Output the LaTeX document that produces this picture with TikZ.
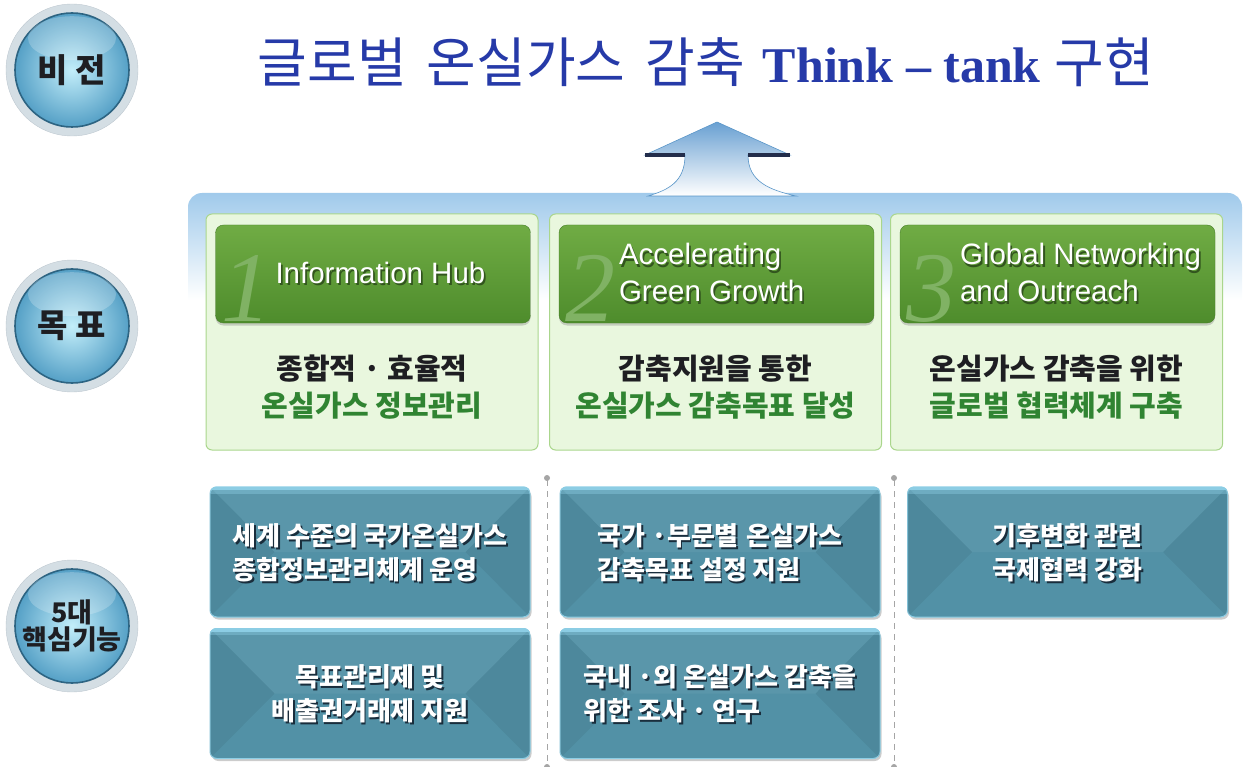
\documentclass[tikz,border=0pt]{standalone}
\usepackage{fontspec}
\newfontfamily\kr{Noto Sans CJK KR}
\newfontfamily\arl{Liberation Sans}
\newfontfamily\tms{Liberation Serif}
\usetikzlibrary{shadows,positioning}
\definecolor{ttlblue}{RGB}{38,58,168}
\definecolor{bandblue}{RGB}{160,202,235}
\definecolor{arrowblue}{RGB}{105,160,210}
\definecolor{arrowline}{RGB}{90,150,200}
\definecolor{barnavy}{RGB}{35,45,75}
\definecolor{panelfill}{RGB}{233,247,222}
\definecolor{panelline}{RGB}{170,214,140}
\definecolor{hdrtop}{RGB}{112,172,68}
\definecolor{hdrbot}{RGB}{78,140,44}
\definecolor{hdrline}{RGB}{70,125,40}
\definecolor{hdshadow}{RGB}{50,85,30}
\definecolor{numgreen}{RGB}{128,178,100}
\definecolor{ink}{RGB}{30,30,34}
\definecolor{aimgreen}{RGB}{48,132,50}
\definecolor{boxbase}{RGB}{82,145,166}
\definecolor{boxhi}{RGB}{140,205,228}
\definecolor{txtshadow}{RGB}{25,45,60}
\definecolor{sepgrey}{RGB}{165,165,165}
\definecolor{ringgrey}{RGB}{212,222,228}
\definecolor{ringline}{RGB}{190,200,208}
\definecolor{orbhi}{RGB}{195,238,250}
\definecolor{orbblue}{RGB}{85,160,198}
\definecolor{orbedge}{RGB}{45,100,130}
% text with a soft drop shadow
\newcommand\shtext[2]{\makebox[0pt][l]{\hspace{1.8pt}\raisebox{-2.2pt}{\textcolor{#1}{#2}}}#2}
\newcommand\hs[1]{\shtext{hdshadow}{#1}}
\newcommand\bs[1]{\shtext{txtshadow}{#1}}
\tikzset{
  ring/.style={circle,minimum size=132pt,inner sep=0pt,fill=ringgrey,draw=ringline},
  orb/.style={circle,minimum size=114pt,inner sep=0pt,inner color=orbhi,outer color=orbblue,
    draw=orbedge,line width=1.6pt},
  orbtxt/.style={text=ink,align=center,inner sep=0pt,font=\kr\bfseries\fontsize{#1}{27}\selectfont},
  panel/.style={draw=panelline,fill=panelfill,rounded corners=6pt,line width=1pt,
    minimum width=332pt,minimum height=236pt},
  hdr/.style={rounded corners=8pt,top color=hdrtop,bottom color=hdrbot,draw=hdrline,
    minimum width=315pt,minimum height=98pt,
    drop shadow={opacity=0.35,shadow xshift=0pt,shadow yshift=-2.5pt}},
  bignum/.style={font=\tms\itshape\fontsize{100}{100}\selectfont,text=numgreen,inner sep=0pt,anchor=base west},
  hdtxt/.style={font=\arl\fontsize{29.5}{37}\selectfont,text=white,align=left,anchor=west,inner sep=0pt},
  aim/.style={font=\kr\bfseries\fontsize{29}{37}\selectfont,align=center,inner sep=0pt},
  fbox/.style={rounded corners=7pt,fill=boxbase,draw=boxhi,line width=1pt,
    minimum width=320pt,minimum height=130pt,
    drop shadow={opacity=0.4,shadow xshift=1.5pt,shadow yshift=-2.5pt}},
  ftxt/.style={font=\kr\bfseries\fontsize{26}{34}\selectfont,text=white,inner sep=0pt},
  sep/.style={draw=sepgrey,dash pattern=on 6pt off 5pt,line width=1pt}
}
\begin{document}
\begin{tikzpicture}[x=1pt,y=-1pt]
\useasboundingbox (0,0) rectangle (1244,767);
% orbs on the left
\foreach \cy/\lab/\fs [count=\i] in {70/{비 전}/33,326/{목 표}/33,626/{5대\\핵심기능}/27}{
  \node[ring] (ring\i) at (72,\cy) {};
  \node[orb] (orb\i) at (72,\cy) {};
  \fill[white,opacity=.22] ([yshift=-26pt]orb\i.north) ellipse (44pt and 22pt);
  \node[orbtxt=\fs] (ot\i) at (orb\i) {\lab};
}
% vision
\node[font=\kr\fontsize{54}{60}\selectfont,text=ttlblue,anchor=base,inner sep=0pt] (title) at (706,83)
  {글로벌\hspace{20pt}온실가스\hspace{20pt}감축\hspace{18pt}{\tms\bfseries\fontsize{50}{60}\selectfont Think – tank}\hspace{14pt}구현};
% band behind the goals
\shade[top color=bandblue,bottom color=white,rounded corners=14pt]
  (188,300) -- (188,193) -- (1242,193) -- (1242,300);
% arrow up
\shade[top color=arrowblue,bottom color=white,draw=arrowline,line width=.6pt]
  (717,122) -- (790,155) -- (748,155) .. controls (748,182) and (770,190) .. (796,196)
  -- (648,196) .. controls (668,190) and (685,182) .. (685,155) -- (645,155) -- cycle;
\draw[barnavy,line width=3.5pt] (645,155) -- (685,155) (748,155) -- (790,155);
% goals
\foreach \cx/\nm/\eng/\la/\lb [count=\i] in {
  372/1/{\hs{Information Hub}}/{종합적 · 효율적}/{온실가스 정보관리},
  715.5/2/{\hs{Accelerating}\\\hs{Green Growth}}/{감축지원을 통한}/{온실가스 감축목표 달성},
  1056.5/3/{\hs{Global Networking}\\\hs{and Outreach}}/{온실가스 감축을 위한}/{글로벌 협력체계 구축}}{
  \node[panel] (p\i) at (\cx,332) {};
  \node[hdr] (h\i) at (\cx+1,274) {};
  \begin{scope}
    \clip[rounded corners=8pt] (h\i.north west) rectangle (h\i.south east);
    \node[bignum] (n\i) at ([xshift=6pt,yshift=-47pt]h\i.west) {\nm};
  \end{scope}
  \node[hdtxt] (e\i) at ([xshift=60pt]h\i.west) {\eng};
  \node[aim] (a\i) at (\cx,387) {\textcolor{ink}{\la}\\\textcolor{aimgreen}{\lb}};
}
% separators
\foreach \sx in {547,894}{
  \draw[sep] (\sx,480) -- (\sx,767);
  \fill[sepgrey] (\sx,478) circle (3pt);
  \fill[sepgrey] (\sx,767) circle (3pt);
}
% core functions
\foreach \bx/\by/\al/\txt [count=\i] in {
  370/552/left/{\bs{세계 수준의 국가온실가스}\\\bs{종합정보관리체계 운영}},
  370/693.5/center/{\bs{목표관리제 및}\\\bs{배출권거래제 지원}},
  720/552/left/{\bs{국가 ·부문별\hspace{8pt}온실가스}\\\bs{감축목표 설정 지원}},
  720/693.5/left/{\bs{국내 ·외 온실가스 감축을}\\\bs{위한 조사 · 연구}},
  1067.5/552/center/{\bs{기후변화 관련}\\\bs{국제협력 강화}}}{
  \node[fbox] (f\i) at (\bx,\by) {};
  \begin{scope}
    \clip[rounded corners=7pt] (f\i.north west) rectangle (f\i.south east);
    \fill[black,opacity=.06] (f\i.north west) -- ([xshift=65pt]f\i.west) -- (f\i.south west) -- cycle;
    \fill[black,opacity=.06] (f\i.north east) -- ([xshift=-65pt]f\i.east) -- (f\i.south east) -- cycle;
    \fill[white,opacity=.05] (f\i.north west) -- ([xshift=65pt]f\i.west) -- ([xshift=-65pt]f\i.east) -- (f\i.north east) -- cycle;
    \draw[boxhi,line width=7pt] (f\i.north west) -- (f\i.north east);
    \draw[boxhi,opacity=.4,line width=14pt] (f\i.north west) -- (f\i.north east);
  \end{scope}
  \node[ftxt,align=\al] (ft\i) at ([yshift=-1.5pt]f\i.center) {\txt};
}
\end{tikzpicture}
\end{document}
